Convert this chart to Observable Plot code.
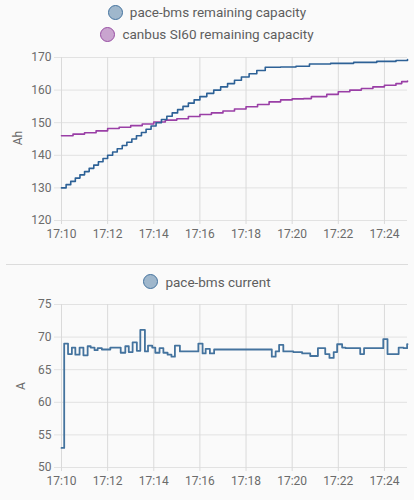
<!DOCTYPE html>
<html>
<head>
<meta charset="utf-8">
<script src="https://cdn.jsdelivr.net/npm/d3@7"></script>
<script src="https://cdn.jsdelivr.net/npm/@observablehq/plot@0.6"></script>
<style>
  html, body { margin: 0; padding: 0; background: #fafafa; }
  body { width: 414px; height: 500px; position: relative; overflow: hidden; font-family: Roboto, sans-serif; }
  .legend { position: absolute; left: 0; width: 414px; display: flex; justify-content: center; align-items: center; height: 20px; font-size: 13.5px; color: #5e5e5e; }
  .dot { width: 13px; height: 13px; border-radius: 50%; border: 1.5px solid; margin-right: 7px; }
  .chart { position: absolute; left: 0; }
  .ylab { position: absolute; font-size: 12px; color: #6b6b6b; transform: translate(-50%, -50%) rotate(-90deg); }
  .sep { position: absolute; left: 6px; width: 402px; top: 263.5px; height: 1px; background: #dcdcdc; }
</style>
</head>
<body>
<div id="app"></div>
<script>
// ---- data ----
const seriesNames = ["pace-bms remaining capacity", "canbus SI60 remaining capacity"];
const currentName = "pace-bms current";
const startTime = "17:10";
const endTime = "17:25";
const timeTickLabels = ["17:10", "17:12", "17:14", "17:16", "17:18", "17:20", "17:22", "17:24"];
const capTicks = [120, 130, 140, 150, 160, 170];
const curTicks = [50, 55, 60, 65, 70, 75];

// seconds after 17:10
const paceCapSeconds = [0, 12, 24, 36, 48, 60, 72, 84, 96, 108, 120, 133, 145, 158, 170, 183, 195, 208, 220, 233, 246, 260, 274, 288, 302, 316, 330, 345, 360, 378, 396, 414, 432, 450, 468, 488, 508, 530, 570, 610, 645, 700, 760, 820, 870, 900];
const paceCapValues  = [130, 131, 132, 133, 134, 135, 136, 137, 138, 139, 140, 141, 142, 143, 144, 145, 146, 147, 148, 149, 150, 151, 152, 153, 154, 155, 156, 157, 158, 159, 160, 161, 162, 163, 164, 165, 166, 167, 167.1, 167.3, 168.0, 168.2, 168.5, 168.8, 169.1, 169.4];

const canCapSeconds = [0, 30, 60, 90, 120, 150, 180, 210, 240, 270, 300, 330, 360, 390, 420, 450, 480, 510, 540, 570, 600, 630, 650, 690, 720, 750, 780, 810, 840, 870, 885, 900];
const canCapValues  = [146.0, 146.5, 146.9, 147.5, 148.2, 148.6, 149.1, 149.6, 150.2, 150.8, 151.2, 151.9, 152.5, 153.0, 153.6, 154.2, 154.9, 155.6, 156.4, 157.0, 157.3, 157.4, 158.0, 158.7, 159.5, 160.0, 160.5, 161.0, 161.5, 162.0, 162.6, 162.8];

const currentSeconds = [0, 7, 17, 27, 36, 47, 57, 68, 76, 86, 94, 105, 127, 154, 166, 175, 185, 196, 205, 217, 225, 236, 244, 255, 265, 276, 286, 295, 308, 356, 367, 375, 386, 397, 547, 557, 566, 577, 603, 626, 647, 667, 686, 697, 708, 717, 730, 739, 777, 787, 837, 848, 877, 890, 899, 900];
const currentValues  = [53.0, 69.0, 67.4, 68.4, 67.3, 68.4, 67.2, 68.6, 68.4, 68.0, 68.3, 68.1, 68.4, 67.6, 68.6, 67.7, 69.2, 67.9, 71.1, 67.8, 68.7, 68.4, 67.6, 68.3, 67.6, 67.3, 67.0, 68.7, 67.8, 69.0, 67.5, 68.2, 67.5, 68.1, 67.0, 67.8, 68.8, 67.8, 67.7, 67.5, 67.1, 68.3, 67.4, 66.8, 67.7, 68.9, 68.4, 68.3, 67.4, 68.3, 69.7, 67.4, 68.4, 68.3, 68.9, 68.9];

const colors = { pace: "#2d6196", can: "#9a3fa6", current: "#44739e" };

// ---- build ----
const parse = d3.utcParse("%H:%M");
const t0 = parse(startTime), t1 = parse(endTime);
const toDate = s => new Date(+t0 + s * 1000);
const timeTicks = timeTickLabels.map(parse);
const fmt = d3.utcFormat("%H:%M");

const paceCap = paceCapSeconds.map((s, i) => ({t: toDate(s), v: paceCapValues[i]}));
const canCap = canCapSeconds.map((s, i) => ({t: toDate(s), v: canCapValues[i]}));
const current = currentSeconds.map((s, i) => ({t: toDate(s), v: currentValues[i]}));

const gridCol = "#e2e2e2";
const tickTextCol = "#6b6b6b";

function chart(yDomain, yTicks, lines) {
  return Plot.plot({
    width: 414, height: 200,
    marginTop: 12, marginBottom: 25, marginLeft: 61, marginRight: 7,
    style: { background: "transparent", fontFamily: "Roboto, sans-serif", fontSize: "12px", overflow: "visible" },
    x: { type: "utc", domain: [t0, t1] },
    y: { domain: yDomain },
    marks: [
      Plot.gridY(yTicks, { stroke: gridCol, strokeOpacity: 1 }),
      Plot.gridX(timeTicks, { stroke: "#dadada", strokeOpacity: 1 }),
      Plot.axisY(yTicks, { tickSize: 7, tickPadding: 3, label: null, stroke: gridCol, fill: tickTextCol, strokeOpacity: 1 }),
      Plot.axisX(timeTicks, { tickSize: 4, tickPadding: 5, label: null, tickFormat: fmt, stroke: "#dadada", fill: tickTextCol, strokeOpacity: 1 }),
      ...lines
    ]
  });
}

const app = document.getElementById("app");

function legend(y, items) {
  const d = document.createElement("div");
  d.className = "legend";
  d.style.top = y + "px";
  items.forEach(([name, col]) => {
    const dot = document.createElement("span");
    dot.className = "dot";
    dot.style.borderColor = col;
    dot.style.background = d3.interpolateRgb(col, "#fafafa")(0.5);
    const tx = document.createElement("span");
    tx.textContent = name;
    d.appendChild(dot); d.appendChild(tx);
  });
  return d;
}

app.appendChild(legend(2, [[seriesNames[0], "#44739e"]]));
app.appendChild(legend(24, [[seriesNames[1], "#984ea3"]]));

const topChart = chart([120, 170], capTicks, [
  Plot.line(canCap, { x: "t", y: "v", curve: "step-after", stroke: colors.can, strokeWidth: 1.6 }),
  Plot.line(paceCap, { x: "t", y: "v", curve: "step-after", stroke: colors.pace, strokeWidth: 1.6 })
]);
const topDiv = document.createElement("div");
topDiv.className = "chart"; topDiv.style.top = "45px";
topDiv.appendChild(topChart);
app.appendChild(topDiv);

const yl1 = document.createElement("div");
yl1.className = "ylab"; yl1.textContent = "Ah";
yl1.style.left = "18px"; yl1.style.top = "138px";
app.appendChild(yl1);

const sep = document.createElement("div");
sep.className = "sep";
app.appendChild(sep);

app.appendChild(legend(271.5, [[currentName, "#44739e"]]));

const bottomChart = chart([50, 75], curTicks, [
  Plot.line(current, { x: "t", y: "v", curve: "step-after", stroke: colors.current, strokeWidth: 1.8 })
]);
const botDiv = document.createElement("div");
botDiv.className = "chart"; botDiv.style.top = "292px";
botDiv.appendChild(bottomChart);
app.appendChild(botDiv);

const yl2 = document.createElement("div");
yl2.className = "ylab"; yl2.textContent = "A";
yl2.style.left = "21px"; yl2.style.top = "386px";
app.appendChild(yl2);
</script>
</body>
</html>
